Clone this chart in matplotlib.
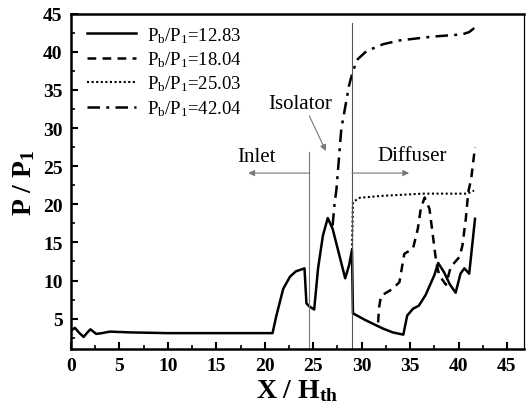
import matplotlib
matplotlib.use("Agg")
import matplotlib.pyplot as plt
from matplotlib.ticker import MultipleLocator

plt.rcParams['font.family'] = ['Liberation Serif', 'DejaVu Serif']
plt.rcParams['mathtext.fontset'] = 'custom'
plt.rcParams['mathtext.rm'] = 'Liberation Serif'
plt.rcParams['mathtext.it'] = 'Liberation Serif:italic'
plt.rcParams['mathtext.bf'] = 'Liberation Serif:bold'

# Pb/P1 = 12.83 (solid)
x1 = [0.1, 0.4, 0.8, 1.3, 1.7, 2.0, 2.6, 3.2, 4.0, 6.0, 10.0, 15.0, 20.0, 20.8,
      21.2, 21.9, 22.6, 23.2, 24.1, 24.3, 24.6, 25.1, 25.5, 26.0, 26.5, 27.0,
      27.7, 28.3, 28.7, 29.0, 29.1, 30.4, 32.2, 33.2, 34.3, 34.7, 35.3, 35.9,
      36.6, 37.5, 37.9, 38.5, 39.1, 39.7, 40.2, 40.6, 41.1, 41.7]
y1 = [3.5, 3.8, 3.2, 2.6, 3.2, 3.6, 3.0, 3.1, 3.3, 3.2, 3.1, 3.1, 3.1, 3.1,
      5.4, 8.9, 10.5, 11.2, 11.6, 7.0, 6.6, 6.2, 11.6, 15.9, 18.2, 16.8,
      13.3, 10.3, 12.0, 14.0, 5.7, 4.8, 3.7, 3.2, 2.9, 5.4, 6.3, 6.7,
      8.1, 10.7, 12.3, 11.1, 9.5, 8.4, 10.9, 11.6, 10.9, 18.1]

# Pb/P1 = 18.04 (dashed)
x2 = [31.7, 31.8, 32.0, 33.2, 33.9, 34.4, 35.3, 35.8, 36.1, 36.5, 37.0, 37.3,
      37.7, 38.0, 38.7, 39.2, 40.1, 40.4, 40.75, 41.0, 41.3, 41.7]
y2 = [4.5, 6.5, 8.0, 8.9, 9.8, 13.5, 14.2, 16.8, 19.4, 20.9, 19.4, 16.4,
      12.4, 10.7, 9.45, 11.8, 13.1, 14.6, 18.1, 21.6, 23.3, 27.5]

# Pb/P1 = 25.03 (dotted)
x3 = [29.0, 29.1, 29.8, 32.0, 36.3, 40.9, 41.6]
y3 = [14.0, 20.3, 20.85, 21.1, 21.4, 21.4, 21.8]

# Pb/P1 = 42.04 (dash-dot)
x4 = [27.0, 27.2, 27.4, 27.9, 28.7, 29.1, 29.6, 30.5, 32.2, 33.9, 37.3,
      40.4, 41.1, 41.7]
y4 = [17.2, 20.0, 22.0, 29.9, 35.6, 37.5, 39.05, 40.1, 41.0, 41.5, 42.0,
      42.3, 42.6, 43.2]

labels = ['P$_\\mathregular{b}$/P$_\\mathregular{1}$=12.83',
          'P$_\\mathregular{b}$/P$_\\mathregular{1}$=18.04',
          'P$_\\mathregular{b}$/P$_\\mathregular{1}$=25.03',
          'P$_\\mathregular{b}$/P$_\\mathregular{1}$=42.04']

fig = plt.figure(figsize=(5.26, 4.10), dpi=100)
ax = fig.add_axes([0.135, 0.146, 0.862, 0.818])

ax.plot(x1, y1, color='black', lw=1.8, ls='-', label=labels[0])
ax.plot(x2, y2, color='black', lw=1.8, ls=(0, (3.5, 2.5)), label=labels[1])
ax.plot(x3, y3, color='black', lw=1.5, ls=(0, (1, 1.2)), label=labels[2])
ax.plot(x4, y4, color='black', lw=1.8, ls=(0, (5, 2.5, 1.2, 2.5)), label=labels[3])

# section boundaries
ax.plot([24.6, 24.6], [1, 26.8], color='#777777', lw=0.8)
ax.plot([29.0, 29.0], [1, 43.8], color='#555555', lw=0.8)

arrow = dict(arrowstyle='-|>', color='#777777', lw=0.8, mutation_scale=9,
             shrinkA=0, shrinkB=0)
ax.annotate('', xy=(18.3, 24.1), xytext=(24.6, 24.1), arrowprops=arrow)
ax.annotate('', xy=(34.9, 24.1), xytext=(29.0, 24.1), arrowprops=arrow)
ax.annotate('', xy=(26.3, 27.0), xytext=(24.6, 31.6), arrowprops=arrow)

ax.text(19.1, 26.3, 'Inlet', fontsize=15, ha='center', va='center')
ax.text(35.25, 26.4, 'Diffuser', fontsize=15, ha='center', va='center')
ax.text(23.7, 33.2, 'Isolator', fontsize=15, ha='center', va='center')

ax.set_xlim(0, 46.8)
ax.set_ylim(1, 45)
ax.xaxis.set_major_locator(MultipleLocator(5))
ax.xaxis.set_minor_locator(MultipleLocator(2.5))
ax.yaxis.set_major_locator(MultipleLocator(5))
ax.yaxis.set_minor_locator(MultipleLocator(2.5))
ax.tick_params(which='major', direction='in', length=5, width=1.5, labelsize=14, pad=6)
ax.tick_params(which='minor', direction='in', length=3, width=1.2)
for lab in ax.get_xticklabels() + ax.get_yticklabels():
    lab.set_fontweight('bold')

ax.spines['left'].set_linewidth(1.8)
ax.spines['bottom'].set_linewidth(1.8)
ax.spines['top'].set_linewidth(1.8)
ax.spines['right'].set_linewidth(0.9)

ax.set_xlabel('X / H$_\\mathbf{th}$', fontsize=20, fontweight='bold', labelpad=2)
ax.set_ylabel('P / P$_\\mathbf{1}$', fontsize=20, fontweight='bold', labelpad=4)

ax.legend(loc='upper left', frameon=False, fontsize=13.5, handlelength=2.6,
          handletextpad=0.6, labelspacing=0.25, borderaxespad=0.2,
          bbox_to_anchor=(0.01, 1.0))

fig.savefig('out.png', dpi=100)
